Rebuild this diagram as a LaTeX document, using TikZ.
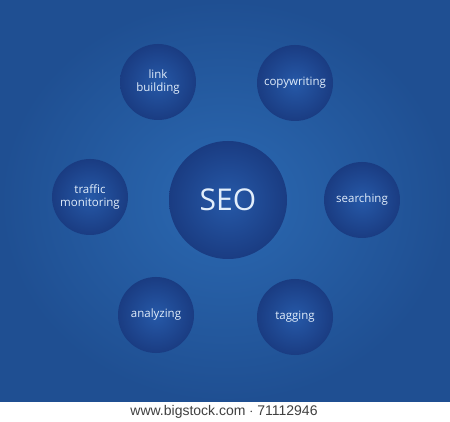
\documentclass[tikz,border=0pt]{standalone}
\usepackage{fontspec}
\setmainfont{Open Sans}
\newfontfamily\footfont{Liberation Sans}
\usepackage{xcolor}
\definecolor{bgin}{HTML}{2B69B2}
\definecolor{bgout}{HTML}{1F4F92}
\definecolor{ballin}{HTML}{2659A8}
\definecolor{ballout}{HTML}{1A3C82}
\definecolor{ink}{HTML}{E2EEFB}

\begin{document}
\begin{tikzpicture}[x=1pt,y=-1pt,
  ball/.style={circle,minimum size=76pt,inner sep=0pt,shading=radial,
    inner color=ballin,outer color=ballout,text=ink,font=\fontsize{11.5}{13}\selectfont,
    align=center},
  bigball/.style={ball,minimum size=118pt,font=\fontsize{30}{31}\selectfont}]
\useasboundingbox (0,0) rectangle (450,422);
\shade[inner color=bgin,outer color=bgout] (0,0) rectangle (450,402);
\fill[white] (0,402) rectangle (450,422);
\node[bigball] (seo) at (228,200) {SEO};
\node[ball] (link) at (158,82) {link\\building};
\node[ball] (copy) at (295,83) {copywriting};
\node[ball] (traffic) at (90,197) {traffic\\monitoring};
\node[ball] (search) at (362,200) {searching};
\node[ball] (analyze) at (156,315) {analyzing};
\node[ball] (tag) at (295,317) {tagging};
\node[text=black!75,font=\footfont\fontsize{14}{15}\selectfont] (foot) at (224,412)
  {www.bigstock.com $\cdot$ 71112946};
\end{tikzpicture}
\end{document}
